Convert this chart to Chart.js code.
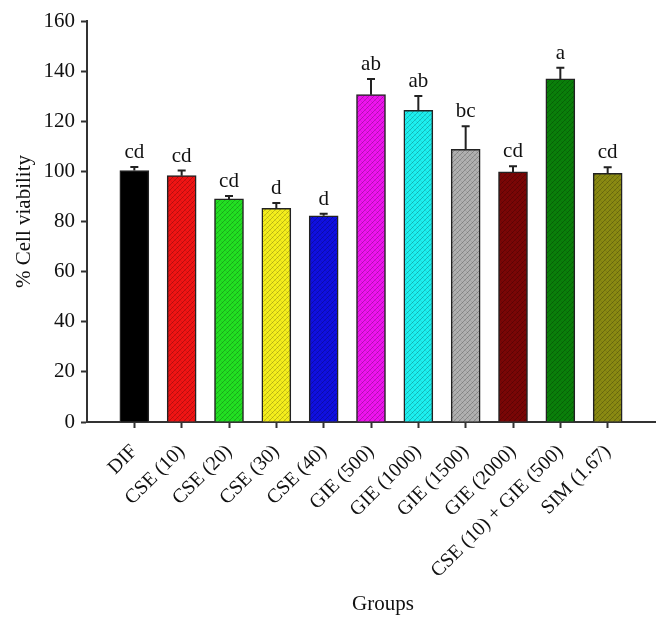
<!DOCTYPE html>
<html>
<head>
<meta charset="utf-8">
<script src="https://cdn.jsdelivr.net/npm/chart.js@4"></script>
<style>
  html, body { margin: 0; padding: 0; background: #fff; }
  #wrap { width: 660px; height: 631px; position: relative; }
</style>
</head>
<body>
<div id="wrap"><canvas id="c" width="660" height="631"></canvas></div>
<script>
// ---- data ----
const categories = ['DIF', 'CSE (10)', 'CSE (20)', 'CSE (30)', 'CSE (40)', 'GIE (500)', 'GIE (1000)', 'GIE (1500)', 'GIE (2000)', 'CSE (10) + GIE (500)', 'SIM (1.67)'];
const meanViability = [100.3, 98.3, 89.0, 85.3, 82.3, 130.6, 124.4, 108.8, 99.8, 136.9, 99.2];
const semViability = [1.4, 2.0, 1.2, 2.1, 0.8, 6.3, 5.7, 9.2, 2.2, 4.4, 2.4];
const sigLetters = ['cd', 'cd', 'cd', 'd', 'd', 'ab', 'ab', 'bc', 'cd', 'a', 'cd'];
const yTickValues = [0, 20, 40, 60, 80, 100, 120, 140, 160];
const barColors = ['#000000', '#f01414', '#22e022', '#f4ee1c', '#1010e0', '#ee14ee', '#1cf0f0', '#b0b0b0', '#7a0606', '#0a800a', '#8a8a12'];

const FONT = "'Liberation Serif', 'DejaVu Serif', serif";

function makePattern(color, solid) {
  const s = 10;
  const c = document.createElement('canvas');
  c.width = s; c.height = s;
  const g = c.getContext('2d');
  g.fillStyle = color;
  g.fillRect(0, 0, s, s);
  if (!solid) {
    g.strokeStyle = 'rgba(0,0,0,0.22)';
    g.lineWidth = 1;
    g.beginPath();
    for (let k = -s; k <= 2 * s; k += 5) {
      g.moveTo(k, s);
      g.lineTo(k + s, 0);
    }
    g.stroke();
    g.strokeStyle = 'rgba(0,0,0,0.08)';
    g.beginPath();
    for (let k = -s; k <= 2 * s; k += 5) {
      g.moveTo(k, 0);
      g.lineTo(k + s, s);
    }
    g.stroke();
  }
  return g.createPattern(c, 'repeat');
}

const labels = [''].concat(categories, ['']);
const data = [null].concat(meanViability, [null]);
const fills = [null].concat(barColors.map((c, i) => makePattern(c, i === 0)), [null]);

const errorPlugin = {
  id: 'errorsAndLetters',
  afterDatasetsDraw(chart) {
    const ctx = chart.ctx;
    const xs = chart.scales.x, ys = chart.scales.y;
    ctx.save();
    ctx.strokeStyle = '#222';
    ctx.lineWidth = 2;
    ctx.fillStyle = '#111';
    ctx.font = '21px ' + FONT;
    ctx.textAlign = 'center';
    ctx.textBaseline = 'alphabetic';
    categories.forEach((cat, i) => {
      const x = xs.getPixelForValue(i + 1);
      const yTop = ys.getPixelForValue(meanViability[i]);
      const yErr = ys.getPixelForValue(meanViability[i] + semViability[i]);
      ctx.beginPath();
      ctx.moveTo(x, yTop);
      ctx.lineTo(x, yErr);
      ctx.moveTo(x - 4, yErr);
      ctx.lineTo(x + 4, yErr);
      ctx.stroke();
      ctx.fillText(sigLetters[i], x, yErr - 9);
    });
    ctx.restore();
  },
  afterDraw(chart) {
    const ctx = chart.ctx;
    const a = chart.chartArea;
    ctx.save();
    ctx.fillStyle = '#111';
    ctx.font = '21px ' + FONT;
    ctx.textAlign = 'center';
    ctx.textBaseline = 'middle';
    ctx.fillText('Groups', (a.left + a.right) / 2 + 12, 604);
    ctx.restore();
  }
};

new Chart(document.getElementById('c'), {
  type: 'bar',
  data: {
    labels: labels,
    datasets: [{
      data: data,
      backgroundColor: fills,
      borderColor: '#222',
      borderWidth: 1.5,
      barThickness: 29
    }]
  },
  options: {
    responsive: false,
    animation: false,
    devicePixelRatio: 1,
    layout: { padding: { left: 8, right: 5, top: 21, bottom: 10 } },
    plugins: { legend: { display: false }, tooltip: { enabled: false } },
    scales: {
      x: {
        type: 'category',
        offset: false,
        afterFit(s) { s.height = 199; s.paddingLeft = 0; s.paddingRight = 0; },
        grid: {
          offset: false,
          drawOnChartArea: false,
          drawTicks: true,
          tickLength: 6,
          tickWidth: 2,
          tickColor: (ctx) => (ctx.index === 0 || ctx.index === labels.length - 1) ? 'rgba(0,0,0,0)' : '#333'
        },
        border: { display: true, color: '#333', width: 2 },
        ticks: {
          autoSkip: false,
          maxRotation: 45,
          minRotation: 45,
          padding: 12,
          color: '#111',
          font: { family: FONT, size: 20 }
        }
      },
      y: {
        min: 0,
        max: 160,
        afterFit(s) { s.width = 79; },
        afterBuildTicks(s) { s.ticks = yTickValues.map(v => ({ value: v })); },
        grid: {
          drawOnChartArea: false,
          drawTicks: true,
          tickLength: 6,
          tickWidth: 2,
          tickColor: '#333'
        },
        border: { display: true, color: '#333', width: 2 },
        ticks: {
          padding: 6,
          color: '#111',
          font: { family: FONT, size: 21 }
        },
        title: {
          display: true,
          text: '% Cell viability',
          color: '#111',
          font: { family: FONT, size: 21 },
          padding: { top: 4, bottom: 0 }
        }
      }
    }
  },
  plugins: [errorPlugin]
});
</script>
</body>
</html>
